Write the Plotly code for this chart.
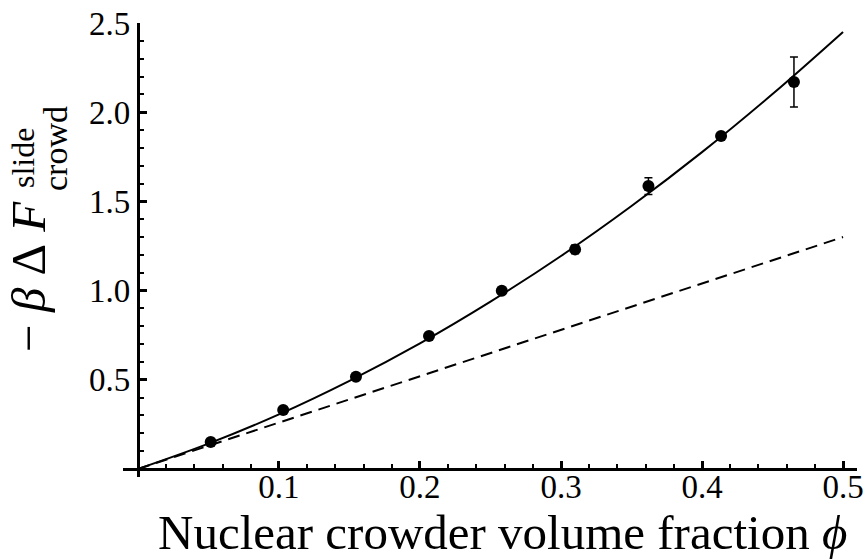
import plotly.graph_objects as go

# Data
phi_pts = [0.0516, 0.103, 0.1546, 0.2064, 0.258, 0.310, 0.362, 0.4135, 0.4652]
f_pts = [0.151, 0.331, 0.517, 0.745, 0.999, 1.231, 1.586, 1.867, 2.169]
f_err = [0.006, 0.006, 0.008, 0.01, 0.01, 0.025, 0.047, 0.01, 0.14]

curve_x = [0.0, 0.05, 0.1, 0.15, 0.2, 0.25, 0.3, 0.35, 0.4, 0.45, 0.5]
curve_y = [0.0, 0.142, 0.306, 0.494, 0.704, 0.938, 1.194, 1.474, 1.776, 2.102, 2.45]

dash_x = [0.0, 0.5]
dash_y = [0.0, 1.30]

xtick_vals = [0.1, 0.2, 0.3, 0.4, 0.5]
xtick_text = ["0.1", "0.2", "0.3", "0.4", "0.5"]
ytick_vals = [0.5, 1.0, 1.5, 2.0, 2.5]
ytick_text = ["0.5", "1.0", "1.5", "2.0", "2.5"]

XR = [-0.0106, 0.5099]
YR = [-0.045, 2.5]

W, H = 868, 559
ML, MR, MT, MB = 123, 11, 23, 82
PW = W - ML - MR
PH = H - MT - MB

def px(xp):
    return (xp - ML) / PW

def py(yp):
    return (H - MB - yp) / PH

FONT = "Liberation Serif"
X_AXIS_POS = (0 - YR[0]) / (YR[1] - YR[0])
LABEL_LIFT = 5 / PH

fig = go.Figure()
# dashed line drawn on the label-only axis (same range as the main axis)
fig.add_trace(go.Scatter(x=dash_x, y=dash_y, mode="lines", xaxis="x2",
                         line=dict(color="black", width=2, dash="12px,7px"),
                         hoverinfo="skip", showlegend=False))
fig.add_trace(go.Scatter(x=curve_x, y=curve_y, mode="lines",
                         line=dict(color="black", width=2, shape="spline"),
                         hoverinfo="skip", showlegend=False))
fig.add_trace(go.Scatter(x=phi_pts, y=f_pts, mode="markers",
                         marker=dict(color="black", size=12),
                         error_y=dict(type="data", array=f_err, visible=True,
                                      color="black", thickness=1.5, width=4),
                         showlegend=False))

fig.update_layout(
    template="none",
    width=W, height=H,
    margin=dict(l=ML, r=MR, t=MT, b=MB, autoexpand=False),
    paper_bgcolor="white", plot_bgcolor="white",
    font=dict(family=FONT, color="black"),
    showlegend=False,
    xaxis=dict(range=XR, anchor="free", position=X_AXIS_POS, automargin=False,
               showgrid=False, zeroline=False, showline=True, linecolor="black", linewidth=3,
               tickmode="array", tickvals=xtick_vals, showticklabels=False,
               ticks="inside", ticklen=7, tickwidth=2.5, tickcolor="black",
               minor=dict(tick0=0, dtick=0.02, ticks="inside", ticklen=4, tickwidth=2, tickcolor="black")),
    xaxis2=dict(range=XR, anchor="free", position=X_AXIS_POS + LABEL_LIFT, overlaying="x",
                automargin=False, showgrid=False, zeroline=False, showline=False, ticks="",
                tickmode="array", tickvals=xtick_vals, ticktext=xtick_text,
                tickfont=dict(family=FONT, size=33, color="black")),
    yaxis=dict(range=YR, anchor="free", position=(0 - XR[0]) / (XR[1] - XR[0]), automargin=False,
               showgrid=False, zeroline=False, showline=True, linecolor="black", linewidth=3,
               tickmode="array", tickvals=ytick_vals, ticktext=ytick_text,
               ticks="inside", ticklen=7, tickwidth=2.5, tickcolor="black",
               tickfont=dict(family=FONT, size=33, color="black"),
               minor=dict(tick0=0, dtick=0.1, ticks="inside", ticklen=4, tickwidth=2, tickcolor="black")),
)

fig.add_annotation(text="Nuclear crowder volume fraction <i>ϕ</i>", xref="paper", yref="paper",
                   x=px(502), y=py(532), xanchor="center", yanchor="middle", showarrow=False,
                   font=dict(family=FONT, size=49, color="black"))
fig.add_annotation(text="−\u2005<i>β</i>\u2005Δ\u2005<i>F</i>", xref="paper", yref="paper", textangle=-90,
                   x=px(28), y=py(277), xanchor="center", yanchor="middle", showarrow=False,
                   font=dict(family=FONT, size=49, color="black"))
fig.add_annotation(text="slide", xref="paper", yref="paper", textangle=-90,
                   x=px(23), y=py(158), xanchor="center", yanchor="middle", showarrow=False,
                   font=dict(family=FONT, size=32, color="black"))
fig.add_annotation(text="crowd", xref="paper", yref="paper", textangle=-90,
                   x=px(55), y=py(149), xanchor="center", yanchor="middle", showarrow=False,
                   font=dict(family=FONT, size=34, color="black"))

fig.write_html("out.html", config={"displayModeBar": False},
               post_script="document.body.style.margin='0';document.body.style.overflow='hidden';")
